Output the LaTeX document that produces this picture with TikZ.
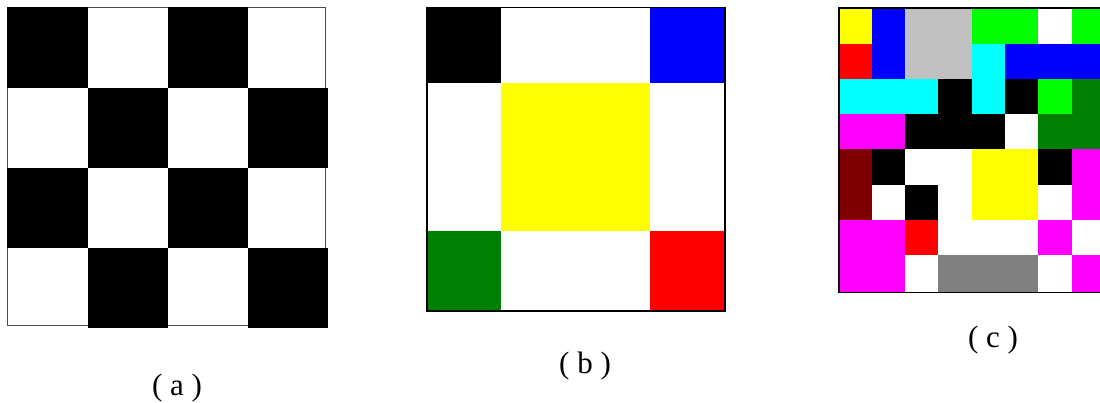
\documentclass[tikz,border=0pt]{standalone}
\usepackage{fontspec}
\setmainfont{Liberation Serif}
\definecolor{silv}{HTML}{C0C0C0}
\definecolor{limeg}{HTML}{00FF00}
\definecolor{dgreen}{HTML}{008000}
\definecolor{maroonc}{HTML}{800000}
\definecolor{grayc}{HTML}{808080}
\definecolor{cyanc}{HTML}{00FFFF}
\definecolor{magc}{HTML}{FF00FF}
\definecolor{yelc}{HTML}{FFFF00}
\definecolor{bluec}{HTML}{0000FF}
\definecolor{redc}{HTML}{FF0000}
\begin{document}
\begin{tikzpicture}[x=1pt,y=-1pt,
  lab/.style={font=\fontsize{31}{31}\selectfont, inner sep=0pt},
  thinframe/.style={line width=0.8pt, draw=black!70},
  thickframe/.style={line width=1.7pt, draw=black}]
\useasboundingbox (0,0) rectangle (1100,402);
% ---------- panel (a) ----------
\draw[thinframe] (7.3,7.3) rectangle (325.7,325);
\foreach \i/\j in {0/0,2/0,1/1,3/1,0/2,2/2,1/3,3/3}
  \fill[black] (7.3+80.2*\i, 7.3+80.2*\j) rectangle ++(80.5,80.5);
\node[lab] (la) at (177,388) {( a )};
% ---------- panel (b) ----------
\fill[black]  (427,7.5)   rectangle (501,82.7);
\fill[bluec]  (650,7.5)   rectangle (725.5,82.7);
\fill[yelc]   (501,82.7)  rectangle (650,230.7);
\fill[dgreen] (427,230.7) rectangle (501,311);
\fill[redc]   (650,230.7) rectangle (725.5,311);
\draw[thickframe] (426.8,7.5) rectangle (725.3,310.9);
\node[lab] (lb) at (585,366) {( b )};
% ---------- panel (c) ----------
\begin{scope}
\clip (830,0) rectangle (1100,300);
\foreach \ya/\yb/\row in {
  7.5/44/{yelc,bluec,silv,silv,limeg,limeg,white,limeg},
  44/79/{redc,bluec,silv,silv,cyanc,bluec,bluec,bluec},
  79/114/{cyanc,cyanc,cyanc,black,cyanc,black,limeg,dgreen},
  114/149/{magc,magc,black,black,black,white,dgreen,dgreen},
  149/184.5/{maroonc,black,white,white,yelc,yelc,black,magc},
  184.5/220/{maroonc,white,black,white,yelc,yelc,white,magc},
  220/255/{magc,magc,redc,white,white,white,magc,white},
  255/292.5/{magc,magc,white,grayc,grayc,grayc,white,magc}}
{
  \foreach \c [count=\i from 0] in \row
    \fill[\c] (838.3+33.33*\i,\ya) rectangle ++(33.6,\yb-\ya+0.3);
}
\draw[thickframe] (839.2,8.2) rectangle (1106,292.5);
\end{scope}
\node[lab] (lc) at (993,340) {( c )};
\end{tikzpicture}
\end{document}
